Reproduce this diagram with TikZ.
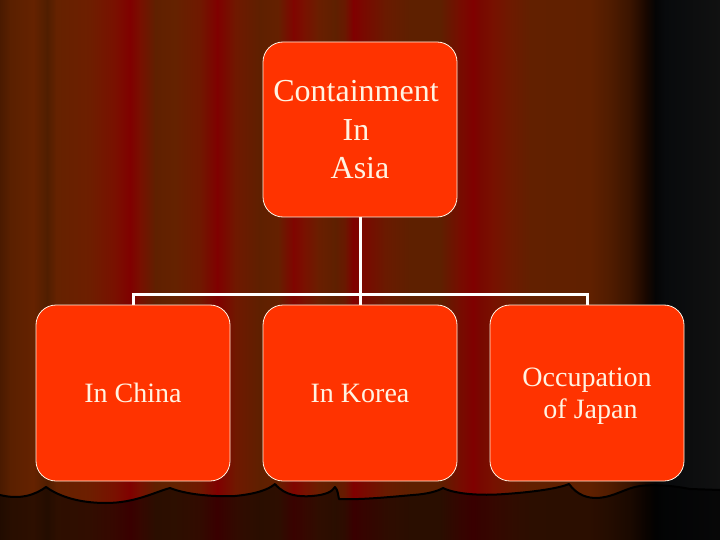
\documentclass[tikz,border=0pt]{standalone}
\usepackage{fontspec}
\setmainfont{Liberation Serif}
\definecolor{boxfill}{HTML}{FF3300}
\definecolor{cream}{HTML}{FFF3E2}
\pgfdeclarelayer{bg}
\pgfdeclarelayer{lines}
\pgfsetlayers{bg,lines,main}
\begin{document}
\begin{tikzpicture}[x=1pt,y=-1pt,
  box/.style={draw=cream, line width=0.8pt, fill=boxfill, rounded corners=20pt,
    minimum width=194pt, minimum height=176pt, inner sep=0pt, text=cream,
    align=center, text depth=0pt},
  toptext/.style={font=\fontsize{32}{38.5}\selectfont},
  bottext/.style={font=\fontsize{28}{32}\selectfont},
  conn/.style={draw=white, line width=3pt}]
\useasboundingbox (0,0) rectangle (720,540);
\begin{pgfonlayer}{bg}
% curtain stripes
\foreach \xa/\ca/\xb/\cb in {
 0/4A1A00/10/5A2000, 10/5A2000/33/652200, 33/652200/47/501E00, 47/501E00/56/652200,
 56/652200/90/6E1E00, 90/6E1E00/115/7A1000, 115/7A1000/130/800000, 130/800000/140/781000,
 140/781000/155/602000, 155/602000/175/652200, 175/652200/200/701800, 200/701800/217/800000,
 217/800000/235/701800, 235/701800/260/5E2000, 260/5E2000/278/652000, 278/652000/293/800500,
 293/800500/303/7A1000, 303/7A1000/318/6A1E00, 318/6A1E00/335/5E2000, 335/5E2000/345/6A1800,
 345/6A1800/353/800000, 353/800000/362/7A0800, 362/7A0800/385/6A1A00, 385/6A1A00/410/5E2000,
 410/5E2000/440/5E2000, 440/5E2000/458/750E00, 458/750E00/473/800000, 473/800000/480/780800,
 480/780800/492/781000, 492/781000/510/6E1A00, 510/6E1A00/530/622000, 530/622000/590/602000,
 590/602000/610/501C00, 610/501C00/630/3A1400, 630/3A1400/645/1A0800, 645/1A0800/655/050505,
 655/050505/665/080A0C, 665/080A0C/720/111111}{
  \definecolor{cl}{HTML}{\ca}\definecolor{cr}{HTML}{\cb}
  \shade[left color=cl, right color=cr] (\xa,0) rectangle (\xb+0.6,540);
}
% stage floor and curtain hem
\fill[black, opacity=0.55] (0,495) .. controls (20,500) and (35,495) .. (46,487)
  .. controls (60,497) and (80,503) .. (106,503) .. controls (135,503) and (155,492) .. (170,488)
  .. controls (185,494) and (210,497) .. (235,496) .. controls (255,494) and (268,490) .. (275,484)
  .. controls (285,496) and (300,497) .. (312,496) .. controls (325,495) and (332,492) .. (335,487)
  .. controls (338,490) and (338,495) .. (339,499)
  .. controls (360,500) and (390,497) .. (413,495) .. controls (428,494) and (438,491) .. (443,488)
  .. controls (455,494) and (480,496) .. (505,494) .. controls (535,492) and (560,488) .. (569,484)
  .. controls (578,496) and (588,498) .. (597,498) .. controls (615,497) and (625,488) .. (640,486)
  .. controls (655,484) and (675,486) .. (690,489) -- (720,490) -- (720,540) -- (0,540) -- cycle;
\draw[black, line width=2pt, line join=round] (0,495) .. controls (20,500) and (35,495) .. (46,487)
  .. controls (60,497) and (80,503) .. (106,503) .. controls (135,503) and (155,492) .. (170,488)
  .. controls (185,494) and (210,497) .. (235,496) .. controls (255,494) and (268,490) .. (275,484)
  .. controls (285,496) and (300,497) .. (312,496) .. controls (325,495) and (332,492) .. (335,487)
  .. controls (338,490) and (338,495) .. (339,499)
  .. controls (360,500) and (390,497) .. (413,495) .. controls (428,494) and (438,491) .. (443,488)
  .. controls (455,494) and (480,496) .. (505,494) .. controls (535,492) and (560,488) .. (569,484)
  .. controls (578,496) and (588,498) .. (597,498) .. controls (615,497) and (625,488) .. (640,486)
  .. controls (655,484) and (675,486) .. (690,489) -- (720,490);
\end{pgfonlayer}
% nodes
\coordinate (j) at (360,294);
\node[box, toptext, minimum height=175pt] (top) at (360,129.5)
  {Containment\rule{8pt}{0pt}\\In\rule{8pt}{0pt}\\Asia};
\node[box, bottext] (china) at (133,393) {In China};
\node[box, bottext] (korea) at (360,393) {In Korea};
\node[box, bottext] (japan) at (587,393) {Occupation\\\rule{7pt}{0pt}of Japan};
% connectors
\begin{pgfonlayer}{lines}
\draw[conn] (top.south) -- (j);
\draw[conn] (china.north) |- (j) -| (japan.north);
\draw[conn] (j) -- (korea.north);
\end{pgfonlayer}
\end{tikzpicture}
\end{document}
